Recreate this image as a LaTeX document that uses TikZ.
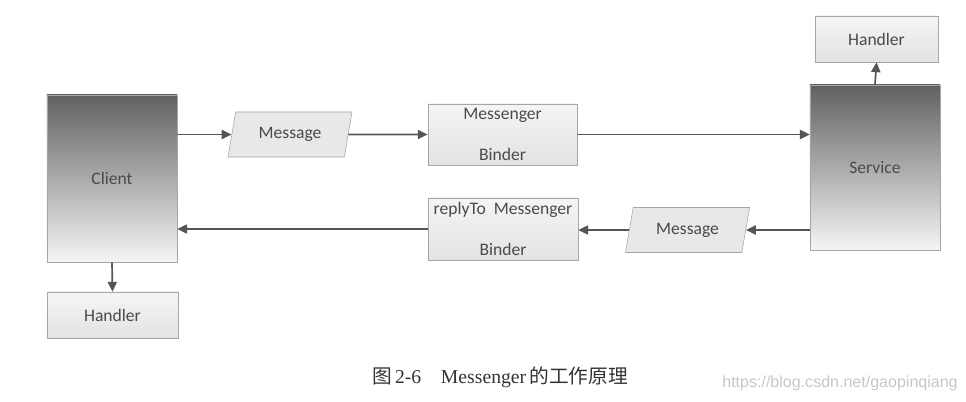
\documentclass[tikz,border=0pt]{standalone}
\usepackage{fontspec}
\setmainfont{Carlito}
\newfontfamily\capfont{Liberation Serif}
\newfontfamily\cjk{Noto Sans CJK SC}
\newfontfamily\urlfont{Liberation Sans}
\usetikzlibrary{shapes.geometric,arrows.meta}
\definecolor{linegray}{HTML}{555555}
\definecolor{boxgray}{HTML}{A6A6A6}
\definecolor{textgray}{HTML}{4A4A4A}

\begin{document}
\begin{tikzpicture}[x=0.025cm,y=-0.025cm]
\tikzstyle{every node}=[font=\fontsize{12.5}{15}\selectfont, text=textgray]
\tikzstyle{bigbox}=[draw=boxgray, rectangle, minimum width=3.25cm, top color=black!62, bottom color=black!4]
\tikzstyle{lightbox}=[draw=boxgray, rectangle, top color=black!4, bottom color=black!11, inner sep=0pt]
\tikzstyle{msgbox}=[draw=boxgray, trapezium, trapezium left angle=72, trapezium right angle=108, trapezium stretches body, fill=black!9, minimum width=3.1cm, minimum height=1.125cm]
\tikzstyle{conn}=[draw=linegray, line width=1.2pt, -{Triangle[length=7pt,width=6.5pt]}]
\useasboundingbox (0,0) rectangle (966,401);
\node[bigbox, minimum height=4.175cm] (clientnode) at (112,178.5) {Client};
\node[bigbox, minimum height=4.125cm] (servicenode) at (875,167.5) {Service};
\node[lightbox, minimum width=3.28cm, minimum height=1.15cm] (clienthandler) at (112.5,315) {Handler};
\node[lightbox, minimum width=3.08cm, minimum height=1.15cm] (servicehandler) at (876.5,39) {Handler};
\node[msgbox] (msgone) at (290,134.5) {Message};
\node[msgbox] (msgtwo) at (687.5,230) {Message};
\node[lightbox, minimum width=3.73cm, minimum height=1.525cm] (binderone) at (502.5,134.5) {\parbox{3.7cm}{\centering Messenger\\[0.48cm] Binder}};
\node[lightbox, minimum width=3.75cm, minimum height=1.55cm] (bindertwo) at (503,229) {\parbox{3.7cm}{\centering replyTo~~Messenger\\[0.48cm] Binder}};
\draw[conn] (clientnode.east |- msgone.west) -- (msgone.west);
\draw[conn] (msgone.east) -- (binderone.west);
\draw[conn] (binderone.east) -- (servicenode.west |- binderone.east);
\draw[conn] (servicenode.north) -- (servicehandler.south);
\draw[conn] (servicenode.west |- msgtwo.east) -- (msgtwo.east);
\draw[conn] (msgtwo.west) -- (msgtwo.west -| bindertwo.east);
\draw[conn] (bindertwo.west) -- (clientnode.east |- bindertwo.west);
\draw[conn] (clientnode.south) -- (clienthandler.north);
\node[font=\fontsize{14}{17}\selectfont, text=black!80] (caption) at (500,377) {{\cjk 图}\,{\capfont 2-6}\quad{\capfont Messenger}\,{\cjk 的工作原理}};
\node[font=\urlfont\fontsize{11.4}{14}\selectfont, text=black!22] (watermark) at (840,383) {https://blog.csdn.net/gaopinqiang};
\end{tikzpicture}
\end{document}
